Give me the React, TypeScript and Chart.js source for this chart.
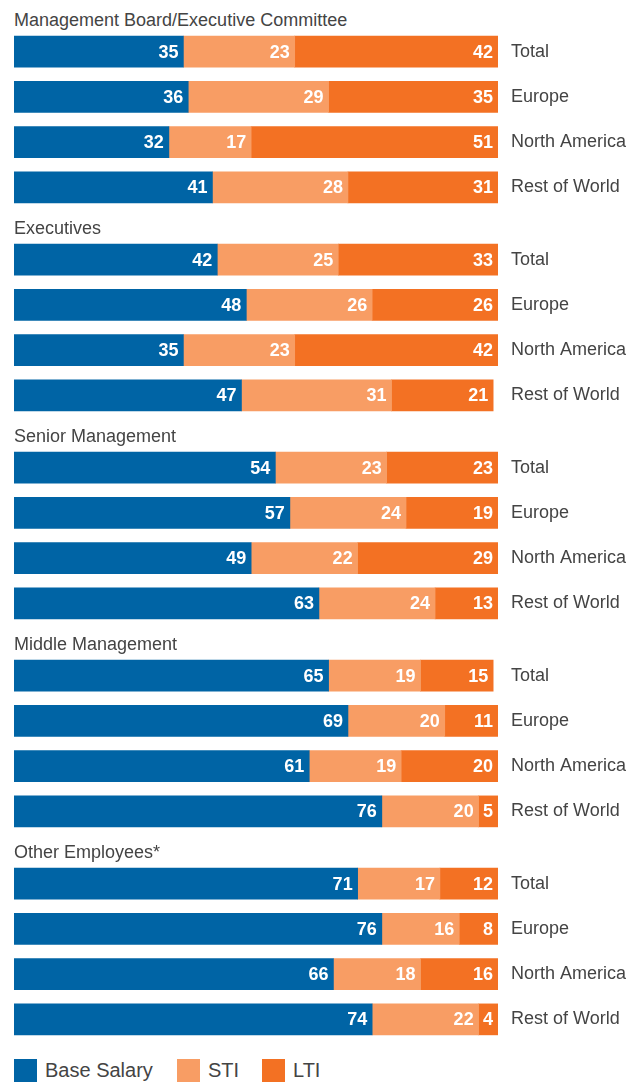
import React, { useEffect, useRef } from "react";
import { Chart, registerables } from "chart.js";

Chart.register(...registerables);

const groupTitles = [
  "Management Board/Executive Committee",
  "Executives",
  "Senior Management",
  "Middle Management",
  "Other Employees*",
];
const regions = ["Total", "Europe", "North America", "Rest of World"];

const baseSalary = [
  [35, 36, 32, 41],
  [42, 48, 35, 47],
  [54, 57, 49, 63],
  [65, 69, 61, 76],
  [71, 76, 66, 74],
];
const sti = [
  [23, 29, 17, 28],
  [25, 26, 23, 31],
  [23, 24, 22, 24],
  [19, 20, 19, 20],
  [17, 16, 18, 22],
];
const lti = [
  [42, 35, 51, 31],
  [33, 26, 42, 21],
  [23, 19, 29, 13],
  [15, 11, 20, 5],
  [12, 8, 16, 4],
];

const seriesNames = ["Base Salary", "STI", "LTI"];
const colors = ["#0064a5", "#f89d64", "#f37123"];
const FONT = "'Liberation Sans', Arial, sans-serif";
const TEXT = "#444444";

const valueLabels = {
  id: "valueLabels",
  afterDatasetsDraw(chart: any) {
    const ctx = chart.ctx;
    const right = chart.chartArea.right;
    ctx.save();
    ctx.font = `bold 18px ${FONT}`;
    ctx.fillStyle = "#ffffff";
    ctx.textAlign = "right";
    ctx.textBaseline = "middle";
    chart.data.datasets.forEach((ds: any, i: number) => {
      const meta = chart.getDatasetMeta(i);
      meta.data.forEach((bar: any, j: number) => {
        const v = ds.data[j];
        if (v == null) return;
        ctx.fillText(String(v), Math.min(bar.x, right) - 5, bar.y + 1);
      });
    });
    ctx.restore();
  },
};

function GroupChart({ g }: { g: number }) {
  const ref = useRef<HTMLCanvasElement | null>(null);
  useEffect(() => {
    if (!ref.current) return;
    const chart = new Chart(ref.current, {
      type: "bar",
      data: {
        labels: regions,
        datasets: [baseSalary[g], sti[g], lti[g]].map((d, i) => ({
          label: seriesNames[i],
          data: d,
          backgroundColor: colors[i],
          borderWidth: 0,
          barThickness: 31,
        })),
      },
      options: {
        indexAxis: "y",
        animation: false,
        responsive: false,
        maintainAspectRatio: false,
        layout: { padding: { left: 14, right: 0, top: 0, bottom: 0 } },
        plugins: {
          legend: { display: false },
          tooltip: { enabled: false },
        },
        scales: {
          x: {
            stacked: true,
            min: 0,
            max: 100,
            display: false,
          },
          y: {
            stacked: true,
            position: "right",
            grid: { display: false, drawTicks: false },
            border: { display: false },
            ticks: {
              padding: 13,
              color: TEXT,
              font: { family: FONT, size: 18 },
            },
            afterFit: (scale: any) => {
              scale.width = 131;
              scale.paddingTop = 0;
              scale.paddingBottom = 0;
            },
          },
        },
      },
      plugins: [valueLabels],
    });
    return () => chart.destroy();
  }, [g]);
  return (
    <div style={{ position: "absolute", left: 0, top: g * 208, width: 629, height: 210 }}>
      <div
        style={{
          position: "absolute",
          left: 14,
          top: 9,
          lineHeight: "22px",
          fontFamily: FONT,
          fontSize: 18,
          color: TEXT,
          whiteSpace: "nowrap",
        }}
      >
        {groupTitles[g]}
      </div>
      <canvas
        ref={ref}
        width={629}
        height={181}
        style={{ position: "absolute", left: 0, top: 29, width: 629, height: 181 }}
      />
    </div>
  );
}

export default function App() {
  return (
    <div style={{ position: "absolute", left: 0, top: 0, width: 629, height: 1082, overflow: "hidden", background: "#fff" }}>
      {groupTitles.map((_, g) => (
        <GroupChart key={g} g={g} />
      ))}
      <div style={{ position: "absolute", left: 0, top: 1059, width: 629, height: 23 }}>
        {seriesNames.map((n, i) => {
          const lefts = [14, 177, 262];
          return (
            <div key={n} style={{ position: "absolute", left: lefts[i], top: 0, height: 23, display: "flex", alignItems: "center" }}>
              <div style={{ width: 23, height: 23, background: colors[i] }} />
              <span style={{ marginLeft: 8, fontFamily: FONT, fontSize: 20, color: TEXT, whiteSpace: "nowrap" }}>{n}</span>
            </div>
          );
        })}
      </div>
    </div>
  );
}
